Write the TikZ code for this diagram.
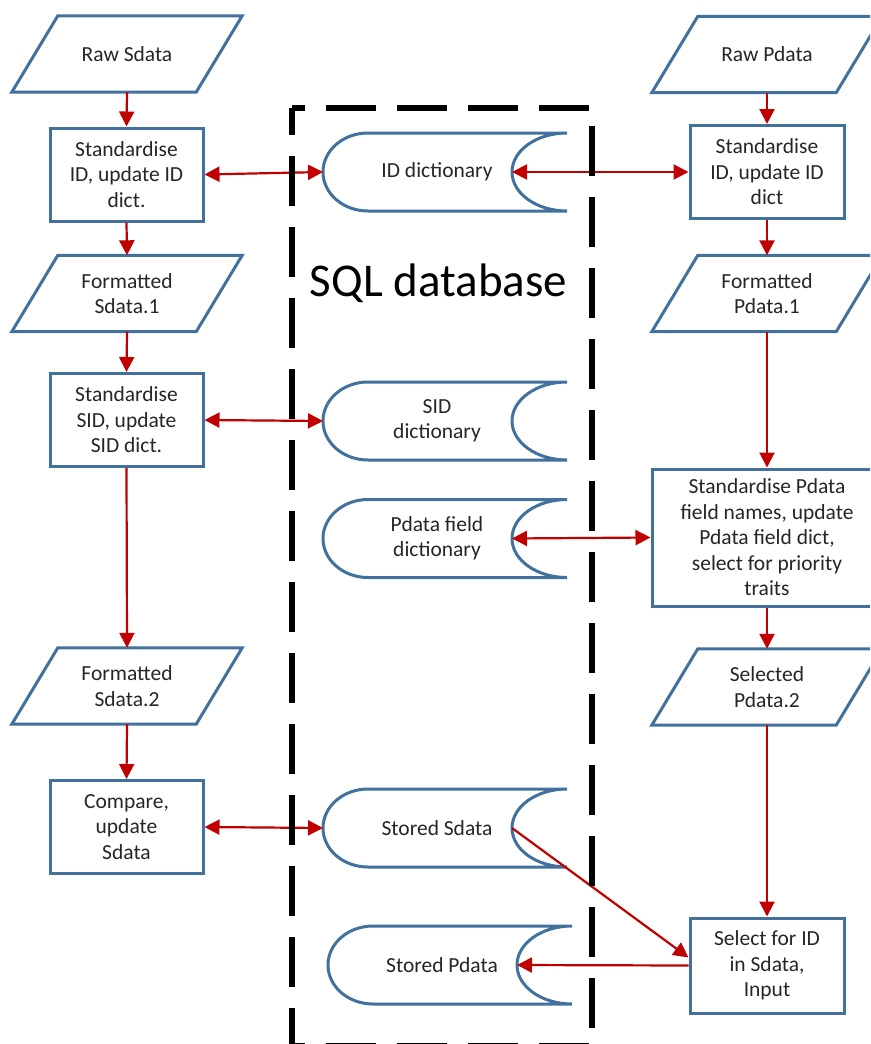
\documentclass[tikz,border=0pt]{standalone}
\usepackage{fontspec}
\setmainfont{Carlito}
\usetikzlibrary{arrows.meta}
\definecolor{shapeblue}{RGB}{65,113,156}
\definecolor{arrred}{RGB}{192,0,0}
\definecolor{txt}{RGB}{38,38,38}
\tikzset{
  shapeline/.style={draw=shapeblue, line width=3pt, line join=miter},
  basetext/.style={font=\fontsize{21.5}{25.5}\selectfont, text=txt, align=center, inner sep=0pt},
  procbox/.style={basetext, shapeline, fill=white, minimum width=153pt, minimum height=93pt},
  iobox/.style={basetext, minimum width=230pt, minimum height=76pt},
  storetext/.style={basetext},
  flow/.style={draw=arrred, line width=2.2pt, -{Triangle[length=15pt,width=15pt]}},
  bflow/.style={draw=arrred, line width=2.2pt, {Triangle[length=15pt,width=15pt]}-{Triangle[length=15pt,width=15pt]}},
  dbframe/.style={draw=black, line width=5.5pt, dash pattern=on 50pt off 21pt, dash phase=23pt}
}
\newcommand\mkpara[4]{%
  \node[iobox] (#1) at (#2,#3) {#4};
  \draw[shapeline] ([xshift=46pt]#1.north west) -- (#1.north east) -- ([xshift=-46pt]#1.south east) -- (#1.south west) -- cycle;}
\newcommand\mkstore[4]{%
  \node[storetext] (#1) at (#2-8,#3) {#4};
  \draw[shapeline] (#2-77,#3-39) -- (#2+122,#3-39)
     arc[start angle=270, end angle=90, x radius=55, y radius=39]
     -- (#2-77,#3+39)
     arc[start angle=90, end angle=270, x radius=45, y radius=39] -- cycle;
  \coordinate (#1-l) at (#2-122,#3);
  \coordinate (#1-r) at (#2+67,#3);}
\begin{document}
\begin{tikzpicture}[x=1pt, y=-1pt]
\useasboundingbox (0,0) rectangle (870,1044);
\clip (0,0) rectangle (870,1044);
\fill[white] (0,0) rectangle (870,1044);

% left column
\mkpara{rawS}{127}{54}{Raw Sdata}
\node[procbox] (stdS) at (126.5,174.5) {Standardise\\ID, update ID\\dict.};
\mkpara{fS1}{127}{293.5}{Formatted\\Sdata.1}
\node[procbox] (stdSID) at (126.5,420) {Standardise\\SID, update\\SID dict.};
\mkpara{fS2}{127}{686}{Formatted\\Sdata.2}
\node[procbox] (cmp) at (126.5,827) {Compare,\\update\\Sdata};

% right column
\mkpara{rawP}{767}{54.5}{Raw Pdata}
\node[procbox, minimum width=154pt] (stdP) at (767,172) {Standardise\\ID, update ID\\dict};
\mkpara{fP1}{767}{293.5}{Formatted\\Pdata.1}
\node[procbox, minimum width=230pt, minimum height=137pt] (stdPF) at (767,537.5) {Standardise Pdata\\field names, update\\Pdata field dict,\\select for priority\\traits};
\mkpara{selP}{767}{687}{Selected\\Pdata.2}
\node[procbox, minimum width=154pt, minimum height=95pt] (sel) at (767,965.5) {Select for ID\\in Sdata,\\Input};

% database stores
\mkstore{idd}{445}{172}{ID dictionary}
\mkstore{sidd}{445}{421}{SID\\dictionary}
\mkstore{pfd}{445}{538.5}{Pdata field\\dictionary}
\mkstore{ssd}{445}{828}{Stored Sdata}
\mkstore{spd}{450}{965}{Stored Pdata}

\node[font=\fontsize{47}{50}\selectfont, text=black, inner sep=0pt] (sql) at (438.5,283) {SQL database};

% vertical flows
\draw[flow] (rawS.south) -- (stdS.north);
\draw[flow] (stdS.south) -- (fS1.north);
\draw[flow] (fS1.south) -- (stdSID.north);
\draw[flow] (stdSID.south) -- (fS2.north);
\draw[flow] (fS2.south) -- (cmp.north);
\draw[flow] (rawP.south) -- (stdP.north);
\draw[flow] (stdP.south) -- (fP1.north);
\draw[flow] (fP1.south) -- (stdPF.north);
\draw[flow] (stdPF.south) -- (selP.north);
\draw[flow] (selP.south) -- (sel.north);

% database links
\draw[bflow] (stdS.east) -- (idd-l);
\draw[bflow] (idd-r) -- (stdP.west);
\draw[bflow] (stdSID.east) -- (sidd-l);
\draw[bflow] (pfd-r) -- (stdPF.west);
\draw[bflow] (cmp.east) -- (ssd-l);
\draw[flow] (ssd-r) -- ([yshift=8pt]sel.west);
\draw[flow] (sel.west) -- (spd-r);

% SQL database frame
\draw[dbframe] (292,108) rectangle (592,1045.5);
\end{tikzpicture}
\end{document}
